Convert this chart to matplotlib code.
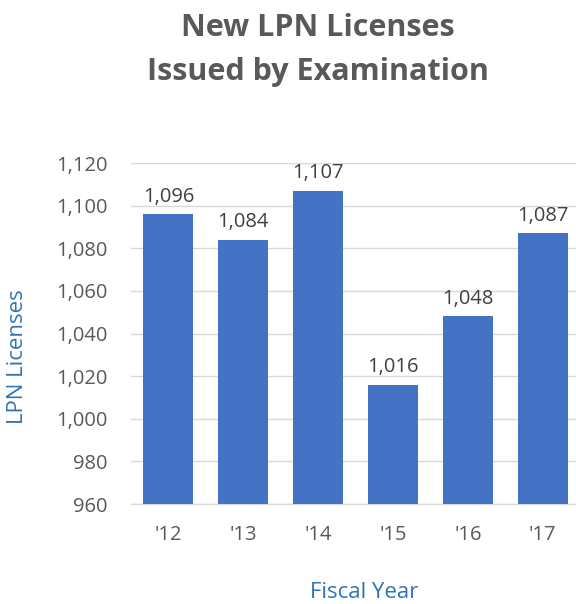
import matplotlib
matplotlib.use("Agg")
import matplotlib.pyplot as plt

categories = ["'12", "'13", "'14", "'15", "'16", "'17"]
values = [1096, 1084, 1107, 1016, 1048, 1087]
yticks = [960, 980, 1000, 1020, 1040, 1060, 1080, 1100, 1120]

plt.rcParams['font.family'] = ['Open Sans', 'DejaVu Sans']

fig = plt.figure(figsize=(5.76, 6.04), dpi=100)
ax = fig.add_axes([131/576, 100/604, 449/576, 341/604])

x = range(len(categories))
bars = ax.bar(x, values, width=0.67, color='#4472C4', zorder=3)
for xi, v in zip(x, values):
    ax.text(xi, v + 3.5, f"{v:,}", ha='center', va='bottom', fontsize=14.5, color='#404040')

ax.set_ylim(960, 1120)
ax.set_xlim(-0.5, len(categories) - 0.5)
ax.set_yticks(yticks)
ax.set_yticklabels([f"{t:,}" for t in yticks])
ax.set_xticks(list(x))
ax.set_xticklabels(categories)
ax.tick_params(axis='both', length=0, labelsize=14.5, labelcolor='#595959')
ax.tick_params(axis='y', pad=17)
ax.tick_params(axis='x', pad=15)
ax.grid(axis='y', color='#D9D9D9', linewidth=1, zorder=0)
for s in ['top', 'right', 'left']:
    ax.spines[s].set_visible(False)
ax.spines['bottom'].set_color('#D9D9D9')
ax.spines['bottom'].set_linewidth(1)

fig.text(318/576, 1 - 28/604, "New LPN Licenses", ha='center', va='center',
         fontsize=22, fontweight='bold', color='#595959')
fig.text(318/576, 1 - 72/604, "Issued by Examination", ha='center', va='center',
         fontsize=22, fontweight='bold', color='#595959')
fig.text(18/576, 1 - 357/604, "LPN Licenses", rotation=90, ha='center', va='center',
         fontsize=16, color='#2E75B6')
fig.text(364/576, 1 - 593/604, "Fiscal Year", ha='center', va='center',
         fontsize=16, color='#2E75B6')

fig.savefig("out.png", dpi=100)
